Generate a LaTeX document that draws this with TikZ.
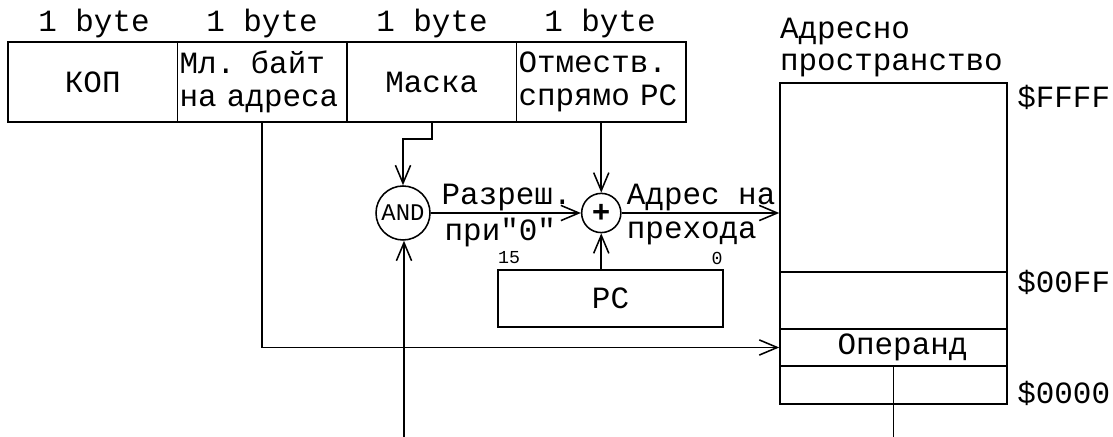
\documentclass[tikz,border=0pt]{standalone}
\usepackage{fontspec}
\setmainfont{Liberation Mono}[Ligatures=TeXOff]
\usetikzlibrary{arrows.meta,positioning}

\begin{document}
\begin{tikzpicture}[x=1cm,y=1cm]
\tikzset{
  cellbox/.style={rectangle,draw=black,line width=1.1pt,minimum width=4.2375cm,minimum height=2cm,inner xsep=0.05cm,font=\fontsize{22}{23.4}\selectfont},
  membox/.style={rectangle,draw=black,line width=1.1pt,minimum width=5.675cm,inner sep=0pt,font=\fontsize{22}{23.4}\selectfont},
  opnode/.style={circle,draw=black,line width=1.1pt,inner sep=0pt},
  plaintext/.style={inner sep=1pt,font=\fontsize{22}{23}\selectfont},
  smalltext/.style={inner sep=1pt,font=\fontsize{13}{14}\selectfont},
  wire/.style={draw=black,line width=1.1pt},
  flow/.style={wire,-{Straight Barb[length=4.5mm,width=3.8mm]}}
}
\useasboundingbox (0,0) rectangle (27.825,10.925);
% instruction word
\node[cellbox] (c_kop) at (2.31875,8.875) {КОП};
\node[cellbox,text width=4.1375cm,align=left] (c_addr) at (6.55625,8.875) {Мл. байт\\на адреса};
\node[cellbox] (c_mask) at (10.79375,8.875) {Маска};
\node[cellbox,text width=4.1375cm,align=left] (c_offs) at (15.03125,8.875) {Отместв.\\спрямо PC};
\node[plaintext] (b_kop) at (2.35,10.33) {1 byte};
\node[plaintext] (b_addr) at (6.55,10.33) {1 byte};
\node[plaintext] (b_mask) at (10.8,10.33) {1 byte};
\node[plaintext] (b_offs) at (15.0,10.33) {1 byte};
% logic
\node[opnode,minimum size=1.35cm,font=\fontsize{17}{18}\selectfont] (n_and) at (10.075,5.6) {AND};
\node[opnode,minimum size=0.98cm,font=\fontsize{22}{23}\selectfont\bfseries] (n_plus) at (15.03125,5.6) {+};
\node[cellbox,minimum width=5.625cm,minimum height=1.425cm] (n_pc) at (15.2625,3.4625) {PC};
\node[smalltext] (pc_hi) at (12.725,4.475) {15};
\node[smalltext] (pc_lo) at (17.925,4.475) {0};
\node[plaintext,anchor=west] (l_en1) at (11.0,5.975) {Разреш.};
\node[plaintext,anchor=west] (l_en2) at (11.075,5.1) {при"0"};
\node[plaintext,anchor=west] (l_jmp1) at (15.63,5.975) {Адрес на};
\node[plaintext,anchor=west] (l_jmp2) at (15.63,5.1) {прехода};
% address space
\node[membox,minimum height=4.725cm] (m_top) at (22.3375,6.4875) {};
\node[membox,minimum height=1.425cm] (m_mid) at (22.3375,3.4125) {};
\node[membox,minimum height=0.925cm] (m_op) at (22.3375,2.2375) {\hspace*{0.45cm}Операнд};
\node[membox,minimum height=0.95cm] (m_low) at (22.3375,1.3) {};
\node[plaintext,anchor=west] (l_space1) at (19.46,10.14) {Адресно};
\node[plaintext,anchor=west] (l_space2) at (19.46,9.3) {пространство};
\node[plaintext,anchor=west] (a_ffff) at (25.39,8.5) {\$FFFF};
\node[plaintext,anchor=west] (a_00ff) at (25.39,3.875) {\$00FF};
\node[plaintext,anchor=west] (a_0000) at (25.39,1.1) {\$0000};
\coordinate (and_in) at (10.1,0);
\coordinate (op_out) at (22.3375,0);
\draw[flow] (c_offs.south) -- (n_plus.north);
\draw[flow] (c_mask.south) -- ++(0,-0.4) -| (n_and.north);
\draw[flow] (c_addr.south) |- (m_op.west);
\draw[flow] (n_and.east) -- (n_plus.west);
\draw[flow] (n_plus.east) -- (n_plus.east -| m_top.west);
\draw[flow] (n_pc.north -| n_plus) -- (n_plus.south);
\draw[flow] (and_in) -- (and_in |- n_and.south);
\draw[wire] (m_op.south) -- (op_out);
\end{tikzpicture}
\end{document}
